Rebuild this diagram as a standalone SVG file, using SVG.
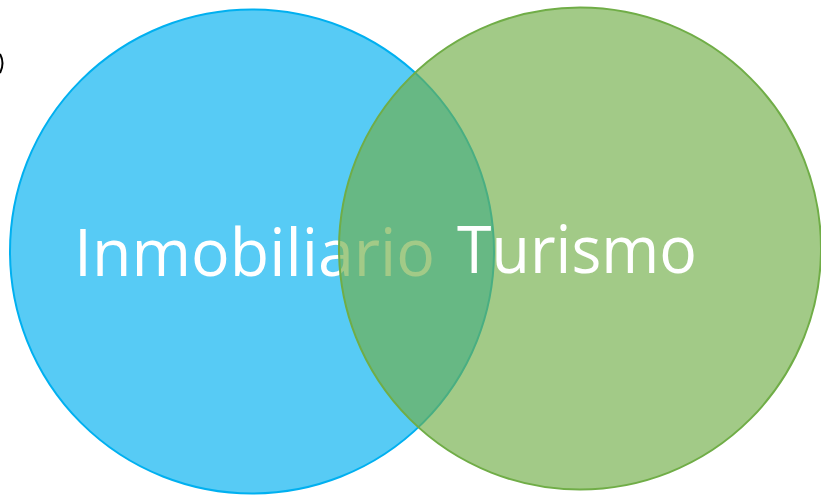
<svg xmlns="http://www.w3.org/2000/svg" width="821" height="502" viewBox="0 0 821 502">
<style>
.lbl{font-family:"Open Sans","Liberation Sans",sans-serif;font-size:66px;fill:#ffffff}
</style>
<rect width="821" height="502" fill="#ffffff"/>
<path d="M0,54 Q5,63 0,73" fill="none" stroke="#000000" stroke-width="2"/>
<g id="inmobiliario">
<circle cx="252" cy="251.5" r="242" fill="#00B0F0" fill-opacity="0.66" stroke="#00B0F0" stroke-width="2"/>
<text class="lbl" x="74" y="276" textLength="361" lengthAdjust="spacingAndGlyphs">Inmobiliario</text>
</g>
<g id="turismo">
<circle cx="580" cy="248.5" r="241" fill="#70AD47" fill-opacity="0.65" stroke="#70AD47" stroke-width="2"/>
<text class="lbl" x="457" y="273" textLength="240" lengthAdjust="spacingAndGlyphs">Turismo</text>
</g>
<g id="connectors"></g>
</svg>
